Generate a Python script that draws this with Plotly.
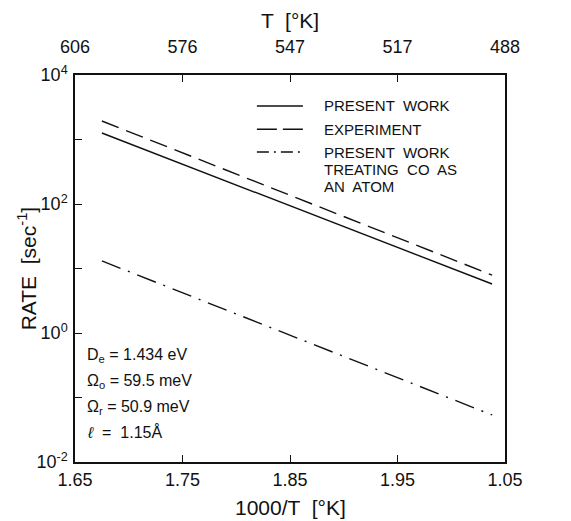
import plotly.graph_objects as go

# ---- data ----
x_inv_T = [1.675, 2.038]                # 1000/T endpoints
rate_present = [1262, 5.75]             # PRESENT WORK
rate_experiment = [1936, 7.9]           # EXPERIMENT
rate_atom = [13.1, 0.0536]              # PRESENT WORK TREATING CO AS AN ATOM

x_ticks = [1.65, 1.75, 1.85, 1.95, 2.05]
x_ticktext = ["1.65", "1.75", "1.85", "1.95", "1.05"]
top_ticktext = ["606", "576", "547", "517", "488"]
y_ticks = [1e-2, 1e-1, 1e0, 1e1, 1e2, 1e3, 1e4]
y_ticktext = ["10<sup>-2</sup>", "", "10<sup>0</sup>", "", "10<sup>2</sup>", "", "10<sup>4</sup>"]

legend_lines = [["PRESENT  WORK"], ["EXPERIMENT"], ["PRESENT  WORK", "TREATING  CO  AS", "AN  ATOM"]]
param_labels = ["D<sub>e</sub> = 1.434 eV", "Ω<sub>o</sub> = 59.5 meV",
                "Ω<sub>r</sub> = 50.9 meV", "<i>ℓ</i>  =  1.15Å"]

FONT = "Liberation Sans"
BLACK = "#111111"
DASH_EXP = "18px,8px"
DASH_ATOM = "20px,8px,2px,8px"

fig = go.Figure()
fig.add_trace(go.Scatter(x=x_inv_T, y=rate_present, mode="lines",
                         line=dict(color=BLACK, width=1.4), showlegend=False))
fig.add_trace(go.Scatter(x=x_inv_T, y=rate_experiment, mode="lines",
                         line=dict(color=BLACK, width=1.4, dash=DASH_EXP), showlegend=False))
fig.add_trace(go.Scatter(x=x_inv_T, y=rate_atom, mode="lines",
                         line=dict(color=BLACK, width=1.4, dash=DASH_ATOM), showlegend=False))
# invisible trace to activate top axis
fig.add_trace(go.Scatter(x=[x_ticks[0]], y=[1], xaxis="x2", mode="markers",
                         marker=dict(opacity=0), showlegend=False, hoverinfo="skip"))

axis_common = dict(showgrid=False, zeroline=False, linecolor=BLACK, linewidth=1.5,
                   ticks="inside", ticklen=7, tickcolor=BLACK, tickwidth=1.2, automargin=False,
                   tickfont=dict(family=FONT, size=18, color=BLACK))

# page body adds an 8px offset; size/margins compensate so the plot box sits at 75..505 x 75..462
fig.update_layout(
    width=563, height=513,
    margin=dict(l=67, r=66, t=67, b=59),
    paper_bgcolor="white", plot_bgcolor="white",
    font=dict(family=FONT, color=BLACK),
    xaxis=dict(range=[1.65, 2.05], tickvals=x_ticks, ticktext=x_ticktext,
               mirror=True, ticklabelstandoff=1, **axis_common),
    xaxis2=dict(range=[1.65, 2.05], tickvals=x_ticks, ticktext=top_ticktext,
                overlaying="x", side="top", anchor="y", ticklabelstandoff=13, **axis_common),
    yaxis=dict(type="log", range=[-2, 4], tickvals=y_ticks, ticktext=y_ticktext,
               mirror=True, ticklabelstandoff=2, **axis_common),
)

title_font = dict(family=FONT, size=21, color=BLACK)
fig.add_annotation(xref="paper", yref="paper", x=0.5, y=1.142, text="T  [°K]",
                   showarrow=False, xanchor="center", yanchor="middle", font=title_font)
fig.add_annotation(xref="paper", yref="paper", x=0.5, y=-0.118, text="1000/T  [°K]",
                   showarrow=False, xanchor="center", yanchor="middle", font=title_font)
fig.add_annotation(xref="paper", yref="paper", x=-0.112, y=0.5, text="RATE  [sec<sup>-1</sup>]",
                   showarrow=False, xanchor="center", yanchor="middle", textangle=-90, font=title_font)

# legend drawn manually
row_y = [0.920, 0.860, 0.801]
line_step = 0.044
dashes = ["solid", "20px,6px", "12px,5px,2px,5px"]
for yy, lines, d in zip(row_y, legend_lines, dashes):
    fig.add_shape(type="line", xref="paper", yref="paper", x0=0.423, x1=0.530, y0=yy, y1=yy,
                  line=dict(color=BLACK, width=1.4, dash=d))
    for k, txt in enumerate(lines):
        fig.add_annotation(xref="paper", yref="paper", x=0.574, y=yy - k * line_step, text=txt,
                           showarrow=False, xanchor="left", yanchor="middle",
                           font=dict(family=FONT, size=15, color=BLACK))

# parameter text
par_y = [0.276, 0.209, 0.140, 0.078]
for yy, lab in zip(par_y, param_labels):
    fig.add_annotation(xref="paper", yref="paper", x=0.023, y=yy, text=lab, showarrow=False,
                       xanchor="left", yanchor="middle", align="left",
                       font=dict(family=FONT, size=16, color=BLACK))

fig.write_html("out.html")
